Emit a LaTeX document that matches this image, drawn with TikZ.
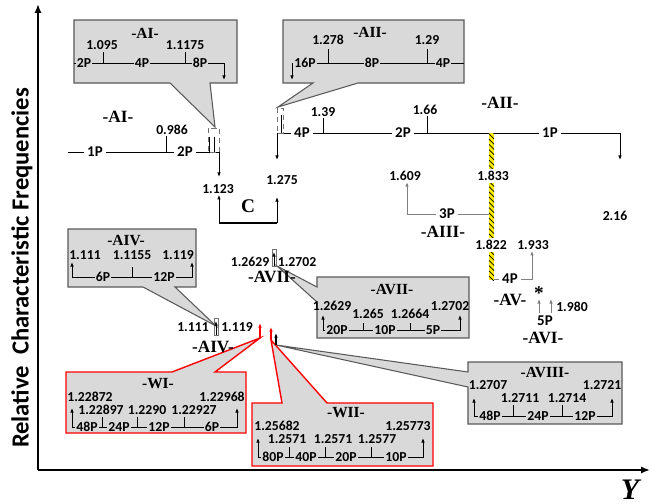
\documentclass[tikz,border=0pt]{standalone}
\usepackage{fontspec}
\setmainfont{Carlito}
\newfontfamily\serifbf{Liberation Serif}
\usepackage{xcolor}
\usetikzlibrary{arrows.meta,positioning,calc,patterns}
\definecolor{boxGray}{HTML}{D9D9D9}
\definecolor{edgeGray}{HTML}{595959}
\definecolor{barYellow}{HTML}{FFEE00}

\begin{document}
\begin{tikzpicture}[x=0.02cm, y=-0.02cm, line width=0.5pt,
  num/.style={font=\bfseries\fontsize{7.8}{8}\selectfont, inner sep=0.5pt},
  pl/.style={font=\bfseries\fontsize{8.5}{9}\selectfont, inner sep=1.5pt},
  lab/.style={font=\serifbf\bfseries\fontsize{9.8}{10}\selectfont, inner sep=0pt},
  boxlab/.style={font=\serifbf\bfseries\fontsize{8.8}{9}\selectfont, inner sep=0pt},
  arr/.style={-{Latex[length=2.6pt,width=2pt]}},
  axis/.style={line width=1.1pt, -{Latex[length=5pt,width=4pt]}},
  callout/.style={fill=boxGray, draw=edgeGray, line width=0.6pt},
  redcall/.style={fill=boxGray, draw=red, line width=0.8pt},
  zoomrect/.style={draw=black!55, line width=0.4pt}]
\useasboundingbox (0,0) rectangle (654,504);
% axes
\coordinate (O) at (38,470);
\coordinate (ytop) at (38,4);
\coordinate (xend) at (650,470);
\draw[axis] (O) -- (ytop);
\draw[axis] (O) -- (xend);
\node[font=\bfseries\fontsize{14}{15}\selectfont, rotate=90] (ylabel) at (22,268)
  {Relative\ \ Characteristic Frequencies};
\node[font=\serifbf\bfseries\itshape\fontsize{17}{18}\selectfont] (Ylab) at (630,490) {Y};

% callout shapes (drawn first, behind everything)
\draw[callout] (74,20) -- (237,20) -- (237,83) -- (210,83) -- (215,127) -- (170,83) -- (74,83) -- cycle;
\draw[callout] (283,20) -- (464,20) -- (464,83) -- (358,83) -- (278,107) -- (313,83) -- (283,83) -- cycle;
\draw[callout] (68,229) -- (196,229) -- (196,287) -- (175,287) -- (216,326) -- (143,287) -- (68,287) -- cycle;
\draw[callout] (317,277) -- (469,277) -- (469,338) -- (317,338) -- (317,302) -- (277,266) -- (317,287) -- cycle;
\draw[callout] (468,362) -- (622,362) -- (622,424) -- (468,424) -- (468,387) -- (276,345) -- (468,372) -- cycle;
\draw[redcall] (66,372) -- (172,372) -- (260,338) -- (215,372) -- (246,372) -- (246,433) -- (66,433) -- cycle;
\draw[redcall] (252,403) -- (282,403) -- (271,340) -- (327,403) -- (433,403) -- (433,466) -- (252,466) -- cycle;

% -AI- chain
\node[lab] (labAI) at (118,117) {-AI-};
\node[pl] (ai1P) at (95,152) {1P};
\node[pl] (ai2P) at (185,152) {2P};
\node[num] (v0986) at (172,130) {0.986};
\coordinate (ai0) at (68,152);
\coordinate (aiT) at (166,152);
\coordinate (aiC) at (219,152);
\coordinate (aiD) at (219,177);
\draw (ai0) -- (ai1P);
\draw (ai1P) -- (ai2P);
\draw (aiT) -- (aiT |- v0986.south);
\draw[arr] (ai2P) -- (aiC) -- (aiD);
\draw[zoomrect, densely dashed] (208,128) rectangle (219,152);
\draw (209,137) -- (209,152);
\draw (214,137) -- (214,152);

% C bracket
\node[num] (v1123) at (218,189) {1.123};
\node[num] (v1275) at (282,180) {1.275};
\node[font=\serifbf\bfseries\fontsize{11}{12}\selectfont] (labC) at (248,206) {C};
\coordinate (cL) at (219,223);
\coordinate (cR) at (277,223);
\coordinate (cRt) at (277,197);
\draw[arr] (cL) -- (cL |- v1123.south);
\draw[arr] (cR) -- (cRt);
\draw[line width=1.6pt] (cL) -- (cR);

% -AII- chain
\node[lab] (labAII) at (500,103) {-AII-};
\node[pl] (aii4P) at (302,133) {4P};
\node[pl] (aii2P) at (403,133) {2P};
\node[pl] (aii1P) at (550,133) {1P};
\node[num] (v139) at (323,112) {1.39};
\node[num] (v166) at (425,110) {1.66};
\node[num] (v216) at (615,216) {2.16};
\coordinate (aiiA) at (277,133);
\coordinate (aiiB) at (277,160);
\coordinate (aiiT1) at (323,133);
\coordinate (aiiT2) at (427,133);
\coordinate (aiiE) at (620,133);
\coordinate (aiiF) at (620,160);
\draw[arr] (aii4P) -- (aiiA) -- (aiiB);
\draw[zoomrect, densely dashed] (277,108) rectangle (283,133);
\draw (281,115) -- (281,133);
\draw (aii4P) -- (aii2P);
\draw (aii2P) -- (aii1P);
\draw (aiiT1) -- (aiiT1 |- v139.south);
\draw (aiiT2) -- (aiiT2 |- v166.south);
\draw[arr] (aii1P) -- (aiiE) -- (aiiF);

% yellow bar
\fill[barYellow] (489,133) rectangle (494,280);
\fill[pattern=north west lines] (489,133) rectangle (494,280);

% -AIII-
\node[num, fill=white, inner sep=1pt] (v1833) at (493,176) {1.833};
\node[num] (v1609) at (405,176) {1.609};
\node[pl] (aiii3P) at (447,214) {3P};
\node[lab] (labAIII) at (443,232) {-AIII-};
\coordinate (aiiiL) at (407,214);
\coordinate (aiiiR) at (489,214);
\draw[gray, arr] (aiii3P) -- (aiiiL) -- (aiiiL |- v1609.south);
\draw[gray] (aiii3P) -- (aiiiR);

% -AV-
\node[num, fill=white, inner sep=1pt] (v1822) at (491,245) {1.822};
\node[num] (v1933) at (533,245) {1.933};
\node[pl] (av4P) at (510,279) {4P};
\node[lab] (labAV) at (510,300) {-AV-};
\coordinate (avL) at (494,279);
\coordinate (avR) at (532,279);
\draw[gray] (avL) -- (av4P);
\draw[gray, arr] (av4P) -- (avR) -- (avR |- v1933.south);

% -AVI-
\node[font=\serifbf\bfseries\fontsize{11}{12}\selectfont, inner sep=0pt] (ast) at (539,293) {*};
\node[pl] (avi5P) at (545,321) {5P};
\node[num] (v1980) at (572,307) {1.980};
\node[lab] (labAVI) at (543,338) {-AVI-};
\draw[gray, arr] (539,313) -- (539,299);
\draw[gray, arr] (551,313) -- (551,299);

% -AIV- and -AVII- (small)
\node[num] (v1111) at (193,327) {1.111};
\node[num] (v1119) at (237,327) {1.119};
\node[lab] (labAIV) at (213,347) {-AIV-};
\draw[zoomrect] (214,318) rectangle (218,335);
\draw[arr, line width=0.4pt] (216,335) -- (216,321);
\node[num] (v12629) at (250,262) {1.2629};
\node[num] (v12702) at (297,262) {1.2702};
\node[lab] (labAVII) at (272,277) {-AVII-};
\draw[zoomrect] (272,249) rectangle (276,266);
\draw[arr, line width=0.4pt] (274,266) -- (274,252);

% -WI-, -WII-, -AVIII- markers
\draw[red, arr, line width=0.8pt] (260,338) -- (260,323);
\draw[red, arr, line width=0.8pt] (271,340) -- (271,327);
\draw[arr, line width=0.8pt] (276,345) -- (276,333);

% callout AI
\node[boxlab] (tAI) at (145,33) {-AI-};
\node[num] (bAIa) at (102,45) {1.095};
\node[num] (bAIb) at (185,45) {1.1175};
\node[num] (bAI2P) at (84,63) {2P};
\node[num] (bAI4P) at (142,63) {4P};
\node[num] (bAI8P) at (200,63) {8P};
\draw (74,63) -- (bAI2P);
\draw (bAI2P) -- (bAI4P);
\draw (bAI4P) -- (bAI8P);
\draw (103,63) -- (103,52);
\draw (185,63) -- (185,52);
\draw[arr] (bAI8P) -- (224,63) -- (224,80);

% callout AII
\node[boxlab] (tAII) at (370,32) {-AII-};
\node[num] (bAIIa) at (328,40) {1.278};
\node[num] (bAIIb) at (427,40) {1.29};
\node[num] (bAII16P) at (305,63) {16P};
\node[num] (bAII8P) at (372,63) {8P};
\node[num] (bAII4P) at (443,63) {4P};
\draw[arr] (bAII16P) -- (292,63) -- (292,80);
\draw (bAII16P) -- (bAII8P);
\draw (bAII8P) -- (bAII4P);
\draw (328,63) -- (328,49);
\draw (427,63) -- (427,49);
\draw (bAII4P) -- (464,63);

% callout AIV
\node[boxlab] (tAIV) at (126,241) {-AIV-};
\node[num] (bAIVa) at (85,255) {1.111};
\node[num] (bAIVb) at (132,255) {1.1155};
\node[num] (bAIVc) at (178,255) {1.119};
\node[num] (bAIV6P) at (103,277) {6P};
\node[num] (bAIV12P) at (164,277) {12P};
\draw[arr] (bAIV6P) -- (72,277) -- (72,262);
\draw (bAIV6P) -- (bAIV12P);
\draw (132,277) -- (132,267);
\draw[arr] (bAIV12P) -- (192,277) -- (192,262);

% callout AVII
\node[boxlab] (tAVII) at (392,290) {-AVII-};
\node[num] (bAVIIa) at (332,306) {1.2629};
\node[num] (bAVIIb) at (368,314) {1.265};
\node[num] (bAVIIc) at (410,314) {1.2664};
\node[num] (bAVIId) at (450,306) {1.2702};
\node[num] (bAVII20P) at (337,330) {20P};
\node[num] (bAVII10P) at (385,330) {10P};
\node[num] (bAVII5P) at (433,330) {5P};
\draw[arr] (bAVII20P) -- (323,330) -- (323,315);
\draw (bAVII20P) -- (bAVII10P);
\draw (bAVII10P) -- (bAVII5P);
\draw (363,330) -- (363,323);
\draw (410,330) -- (410,323);
\draw[arr] (bAVII5P) -- (460,330) -- (460,315);

% callout WI
\node[boxlab] (tWI) at (158,384) {-WI-};
\node[num] (bWIa) at (90,397) {1.22872};
\node[num] (bWIb) at (101,410) {1.22897};
\node[num] (bWIc) at (147,410) {1.2290};
\node[num] (bWId) at (194,410) {1.22927};
\node[num] (bWIe) at (222,397) {1.22968};
\node[num] (bWI48P) at (87,427) {48P};
\node[num] (bWI24P) at (119,427) {24P};
\node[num] (bWI12P) at (159,427) {12P};
\node[num] (bWI6P) at (212,427) {6P};
\draw[arr] (bWI48P) -- (72,427) -- (72,408);
\draw (bWI48P) -- (bWI24P);
\draw (bWI24P) -- (bWI12P);
\draw (bWI12P) -- (bWI6P);
\draw (102,427) -- (102,417);
\draw (137,427) -- (137,417);
\draw (184,427) -- (184,417);
\draw[arr] (bWI6P) -- (237,427) -- (237,408);

% callout WII
\node[boxlab] (tWII) at (346,413) {-WII-};
\node[num] (bWIIa) at (277,426) {1.25682};
\node[num] (bWIIb) at (287,439) {1.2571};
\node[num] (bWIIc) at (333,439) {1.2571};
\node[num] (bWIId) at (377,439) {1.2577};
\node[num] (bWIIe) at (408,426) {1.25773};
\node[num] (bWII80P) at (273,457) {80P};
\node[num] (bWII40P) at (306,457) {40P};
\node[num] (bWII20P) at (346,457) {20P};
\node[num] (bWII10P) at (396,457) {10P};
\draw[arr] (bWII80P) -- (258,457) -- (258,438);
\draw (bWII80P) -- (bWII40P);
\draw (bWII40P) -- (bWII20P);
\draw (bWII20P) -- (bWII10P);
\draw (289,457) -- (289,447);
\draw (325,457) -- (325,447);
\draw (371,457) -- (371,447);
\draw[arr] (bWII10P) -- (423,457) -- (423,438);

% callout AVIII
\node[boxlab] (tAVIII) at (545,373) {-AVIII-};
\node[num] (bAVIIIa) at (488,385) {1.2707};
\node[num] (bAVIIIb) at (520,398) {1.2711};
\node[num] (bAVIIIc) at (567,398) {1.2714};
\node[num] (bAVIIId) at (602,385) {1.2721};
\node[num] (bAVIII48P) at (490,416) {48P};
\node[num] (bAVIII24P) at (538,416) {24P};
\node[num] (bAVIII12P) at (585,416) {12P};
\draw[arr] (bAVIII48P) -- (474,416) -- (474,398);
\draw (bAVIII48P) -- (bAVIII24P);
\draw (bAVIII24P) -- (bAVIII12P);
\draw (513,416) -- (513,405);
\draw (562,416) -- (562,405);
\draw[arr] (bAVIII12P) -- (612,416) -- (612,398);
\end{tikzpicture}
\end{document}
